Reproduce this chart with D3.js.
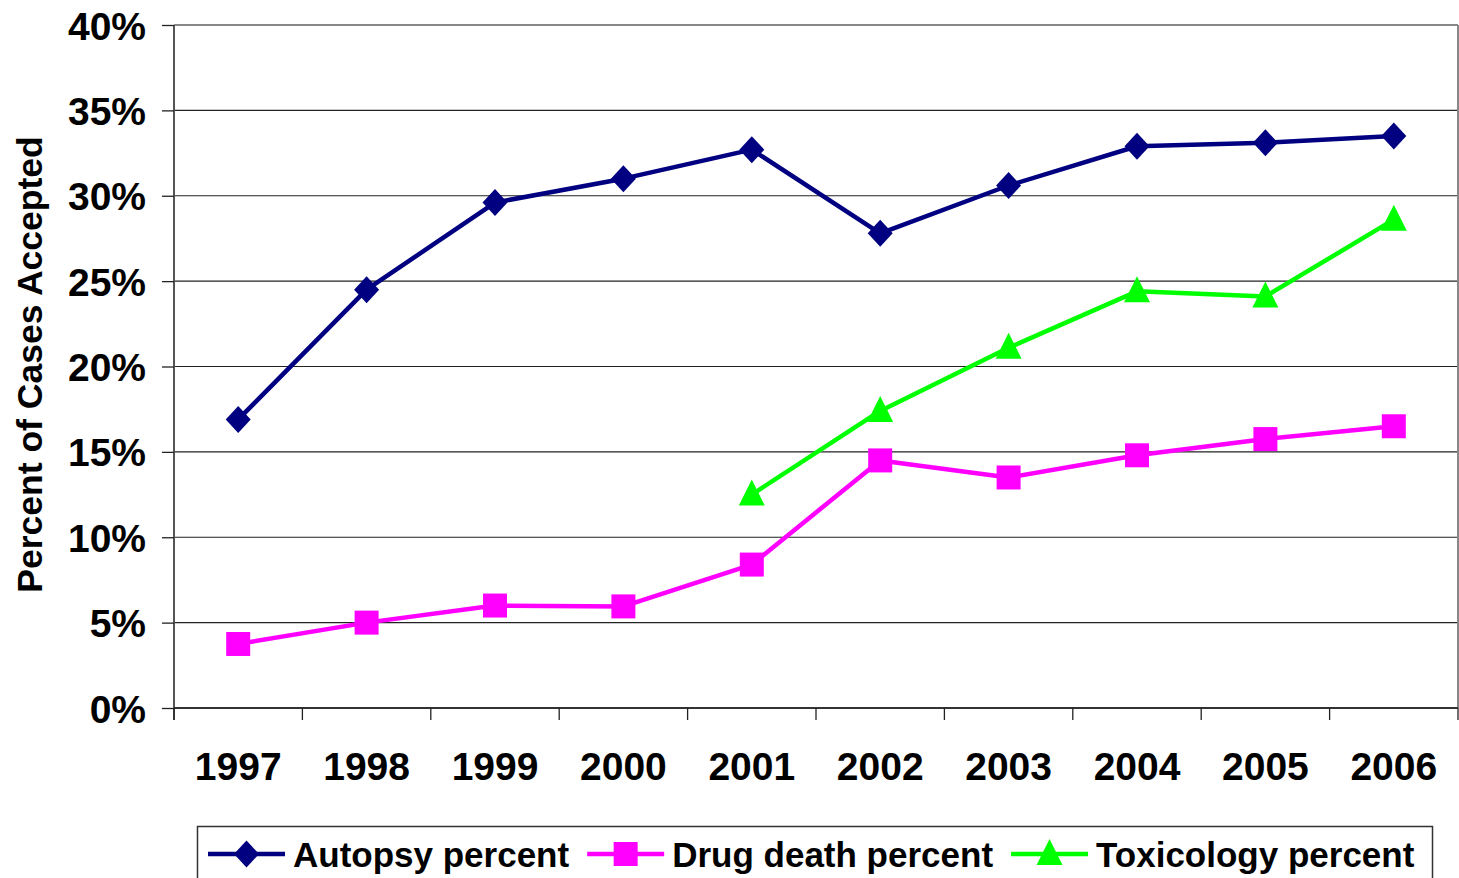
<!DOCTYPE html>
<html>
<head>
<meta charset="utf-8">
<script src="https://cdn.jsdelivr.net/npm/d3@7"></script>
<style>
  html, body { margin: 0; padding: 0; background: #fff; }
  svg { display: block; }
  text { font-family: "Liberation Sans", Arial, sans-serif; font-weight: bold; fill: #000; }
</style>
</head>
<body>
<svg id="chart" width="1459" height="878"></svg>
<script>
// Years on the category axis
const years = ["1997", "1998", "1999", "2000", "2001", "2002", "2003", "2004", "2005", "2006"];

// Percent of cases accepted, per year (null = not reported)
const autopsyPercent = [16.9, 24.5, 29.6, 31.0, 32.7, 27.8, 30.6, 32.9, 33.1, 33.5];
const drugDeathPercent = [3.75, 5.0, 6.0, 5.95, 8.4, 14.5, 13.5, 14.8, 15.75, 16.5];
const toxicologyPercent = [null, null, null, null, 12.5, 17.4, 21.1, 24.4, 24.1, 28.6];

// Y axis ticks
const yTicks = [0, 5, 10, 15, 20, 25, 30, 35, 40];

const series = [
  { name: "Autopsy percent", values: autopsyPercent, color: "#000080", marker: "diamond" },
  { name: "Drug death percent", values: drugDeathPercent, color: "#FF00FF", marker: "square" },
  { name: "Toxicology percent", values: toxicologyPercent, color: "#00FF00", marker: "triangle" }
];

const svg = d3.select("#chart");
const plot = { left: 174, right: 1458, top: 25, bottom: 708 };

const x = d3.scaleBand().domain(years).range([plot.left, plot.right]);
const y = d3.scaleLinear().domain([0, 40]).range([plot.bottom, plot.top]);

// Horizontal gridlines
svg.append("g")
  .selectAll("line")
  .data(yTicks.filter(t => t > 0))
  .join("line")
  .attr("x1", plot.left).attr("x2", plot.right)
  .attr("y1", d => y(d)).attr("y2", d => y(d))
  .attr("stroke", d => d === 40 ? "#888" : "#222")
  .attr("stroke-width", d => d === 40 ? 2 : 1.2);

// Right border of the plot area
svg.append("line")
  .attr("x1", plot.right).attr("x2", plot.right)
  .attr("y1", plot.top).attr("y2", plot.bottom)
  .attr("stroke", "#888").attr("stroke-width", 2);

// Y axis
const yAxis = d3.axisLeft(y)
  .tickValues(yTicks)
  .tickFormat(d => d + "%")
  .tickSize(12)
  .tickPadding(16);
const yg = svg.append("g").attr("transform", `translate(${plot.left},0)`).call(yAxis);
yg.select(".domain").attr("stroke", "#555").attr("stroke-width", 2).attr("d", `M0,${plot.top}V${plot.bottom + 12}`);
yg.selectAll(".tick line").attr("stroke", "#222").attr("stroke-width", 1.3);
yg.selectAll(".tick text").style("font-size", "39px").attr("dy", "0.36em");

// X axis
const xAxis = d3.axisBottom(x).tickSize(0).tickPadding(58);
const xg = svg.append("g").attr("transform", `translate(0,${plot.bottom})`).call(xAxis);
xg.select(".domain").attr("stroke", "#333").attr("stroke-width", 2).attr("d", `M${plot.left},0H${plot.right}`);
xg.selectAll(".tick text").style("font-size", "39px").attr("dy", "0.36em");
// Tick marks between categories
const bounds = years.map(yr => x(yr)).concat([plot.right]);
xg.selectAll(".sep")
  .data(bounds)
  .join("line")
  .attr("class", "sep")
  .attr("x1", d => d).attr("x2", d => d)
  .attr("y1", 0).attr("y2", 12)
  .attr("stroke", "#222").attr("stroke-width", 1.3);

// Y axis title
svg.append("text")
  .attr("transform", `translate(42,${(plot.top + plot.bottom) / 2 - 2}) rotate(-90)`)
  .attr("text-anchor", "middle")
  .style("font-size", "35.5px")
  .text("Percent of Cases Accepted");

// Marker shapes
function drawMarker(g, kind, cx, cy, color) {
  let p;
  if (kind === "diamond") {
    p = `M${cx},${cy - 13.5}L${cx + 12.5},${cy}L${cx},${cy + 13.5}L${cx - 12.5},${cy}Z`;
  } else if (kind === "square") {
    p = `M${cx - 12},${cy - 12}h24v24h-24Z`;
  } else {
    p = `M${cx},${cy - 15}L${cx + 13},${cy + 11}L${cx - 13},${cy + 11}Z`;
  }
  g.append("path").attr("d", p).attr("fill", color);
}

const cx = yr => x(yr) + x.bandwidth() / 2;

series.forEach(s => {
  const pts = years.map((yr, i) => ({ yr, v: s.values[i] })).filter(d => d.v != null);
  const line = d3.line().x(d => cx(d.yr)).y(d => y(d.v));
  const g = svg.append("g");
  g.append("path")
    .attr("d", line(pts))
    .attr("fill", "none")
    .attr("stroke", s.color)
    .attr("stroke-width", 4.5)
    .attr("stroke-linejoin", "round");
  pts.forEach(d => drawMarker(g, s.marker, cx(d.yr), y(d.v), s.color));
});

// Legend
const legend = svg.append("g");
legend.append("rect")
  .attr("x", 197.5).attr("y", 826.5)
  .attr("width", 1235).attr("height", 70)
  .attr("fill", "#fff").attr("stroke", "#333").attr("stroke-width", 1.5);
let lx = 208;
const ly = 854;
series.forEach(s => {
  legend.append("line")
    .attr("x1", lx).attr("x2", lx + 77)
    .attr("y1", ly).attr("y2", ly)
    .attr("stroke", s.color).attr("stroke-width", 4.5);
  drawMarker(legend, s.marker, lx + 38.5, ly, s.color);
  const t = legend.append("text")
    .attr("x", lx + 85).attr("y", ly)
    .attr("dy", "0.36em")
    .style("font-size", "35px")
    .text(s.name);
  lx = lx + 85 + t.node().getComputedTextLength() + 18;
});
</script>
</body>
</html>
